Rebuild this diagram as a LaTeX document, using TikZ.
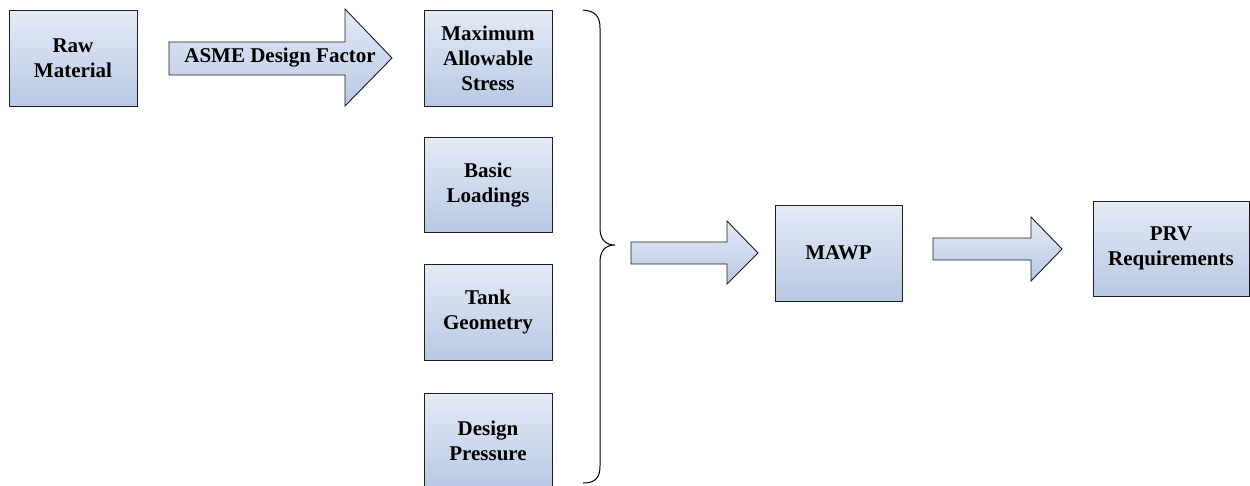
\documentclass[tikz,border=0pt]{standalone}
\usepackage{fontspec}
\setmainfont{Liberation Serif}
\definecolor{boxtop}{RGB}{228,234,246}
\definecolor{boxbot}{RGB}{184,201,228}
\definecolor{edge}{RGB}{30,30,30}
\tikzset{
  blk/.style={draw=edge, line width=0.9pt, top color=boxtop, bottom color=boxbot},
  lbl/.style={align=center, font=\bfseries\fontsize{21}{25}\selectfont, inner sep=0pt},
  bracepath/.style={draw=black, line width=1pt}
}
\begin{document}
\begin{tikzpicture}[x=1pt,y=-1pt]
\useasboundingbox (0,0) rectangle (1250,485);
\clip (0,0) rectangle (1250,485);
% boxes
\path[blk] (9,10) rectangle (137,106);
\node[lbl] (raw) at (73,58) {Raw\\Material};
\path[blk] (424,10) rectangle (552,106);
\node[lbl] (mas) at (488,58) {Maximum\\Allowable\\Stress};
\path[blk] (424,137) rectangle (552,232);
\node[lbl] (bl) at (488,185) {Basic\\Loadings};
\path[blk] (424,264) rectangle (552,360);
\node[lbl] (tg) at (488,312) {Tank\\Geometry};
\path[blk] (424,393) rectangle (552,489);
\node[lbl] (dp) at (488,441) {Design\\Pressure};
\path[blk] (775,205) rectangle (902,301);
\node[lbl] (mawp) at (838.5,253) {MAWP};
\path[blk] (1093,201) rectangle (1249,296);
\node[lbl] (prv) at (1171,248.5) {PRV\\Requirements};
% block arrows
\path[blk] (169,42) -- (345,42) -- (345,9) -- (392,58) -- (345,106) -- (345,75) -- (169,75) -- cycle;
\node[lbl] (asme) at (280,58) {ASME Design Factor};
\path[blk] (631,242) -- (727,242) -- (727,221) -- (758,253) -- (727,284) -- (727,264) -- (631,264) -- cycle;
\path[blk] (933,238) -- (1031,238) -- (1031,217) -- (1062,249) -- (1031,281) -- (1031,260) -- (933,260) -- cycle;
% brace
\coordinate (btop) at (583,10);
\coordinate (btip) at (615,245);
\coordinate (bbot) at (583,483);
\draw[bracepath] (btop) .. controls (595,11) and (600,16) .. (600,28)
  -- (600,228) .. controls (600,240) and (606,245) .. (btip)
  .. controls (606,245) and (600,250) .. (600,262)
  -- (600,466) .. controls (600,478) and (595,483) .. (bbot);
\end{tikzpicture}
\end{document}
